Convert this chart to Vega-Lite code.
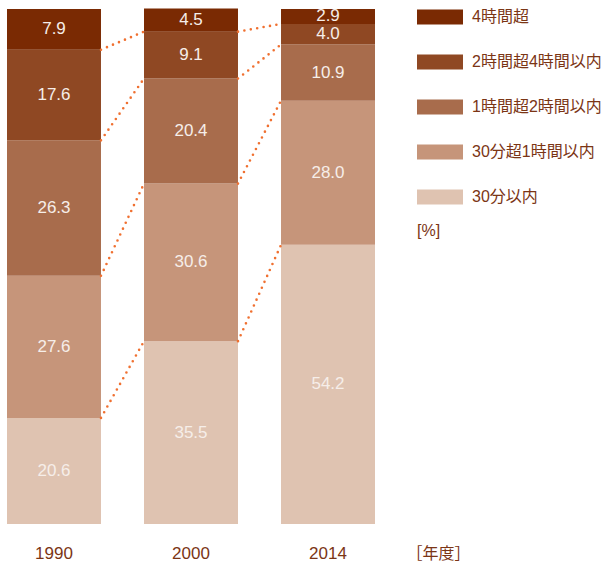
{
  "$schema": "https://vega.github.io/schema/vega-lite/v6.json",
  "width": 368,
  "height": 515,
  "autosize": {"type": "none"},
  "padding": {"left": 7, "top": 9, "right": 238, "bottom": 39},
  "background": "white",
  "config": {"view": {"stroke": null}, "font": "Liberation Sans, Noto Sans CJK JP"},
  "data": {"values": [
    {"year": "1990", "cat": "30分以内", "value": 20.6},
    {"year": "1990", "cat": "30分超1時間以内", "value": 27.6},
    {"year": "1990", "cat": "1時間超2時間以内", "value": 26.3},
    {"year": "1990", "cat": "2時間超4時間以内", "value": 17.6},
    {"year": "1990", "cat": "4時間超", "value": 7.9},
    {"year": "2000", "cat": "30分以内", "value": 35.5},
    {"year": "2000", "cat": "30分超1時間以内", "value": 30.6},
    {"year": "2000", "cat": "1時間超2時間以内", "value": 20.4},
    {"year": "2000", "cat": "2時間超4時間以内", "value": 9.1},
    {"year": "2000", "cat": "4時間超", "value": 4.5},
    {"year": "2014", "cat": "30分以内", "value": 54.2},
    {"year": "2014", "cat": "30分超1時間以内", "value": 28.0},
    {"year": "2014", "cat": "1時間超2時間以内", "value": 10.9},
    {"year": "2014", "cat": "2時間超4時間以内", "value": 4.0},
    {"year": "2014", "cat": "4時間超", "value": 2.9}
  ]},
  "transform": [
    {"calculate": "indexof(['30分以内','30分超1時間以内','1時間超2時間以内','2時間超4時間以内','4時間超'], datum.cat)", "as": "ord"},
    {"stack": "value", "groupby": ["year"], "sort": [{"field": "ord", "order": "ascending"}], "as": ["y0", "y1"]},
    {"calculate": "(datum.y0 + datum.y1) / 2", "as": "ymid"}
  ],
  "encoding": {
    "x": {"field": "year", "type": "nominal",
      "scale": {"paddingInner": 0.314, "paddingOuter": 0},
      "axis": {"title": "［年度］", "labelAngle": 0, "ticks": false, "domain": false,
        "labelFontSize": 17, "labelColor": "#7B3515", "labelPadding": 21,
        "titleFontSize": 16, "titleFontWeight": "normal", "titleColor": "#7B3515",
        "titleX": 431, "titleY": 29, "titleBaseline": "middle", "titleAnchor": "middle"}}
  },
  "layer": [
    {
      "mark": {"type": "bar"},
      "encoding": {
        "y": {"field": "y0", "type": "quantitative", "scale": {"domain": [0, 100], "nice": false}, "axis": null},
        "y2": {"field": "y1"},
        "color": {"field": "cat", "type": "nominal",
          "scale": {"domain": ["4時間超", "2時間超4時間以内", "1時間超2時間以内", "30分超1時間以内", "30分以内"],
                    "range": ["#7A2A03", "#8F4823", "#A86C4C", "#C6957A", "#DFC3B1"]},
          "legend": {"orient": "none", "legendX": 410, "legendY": -15, "title": "[%]", "titleOrient": "bottom",
            "titleAnchor": "start",
            "titleFontSize": 16, "titleFontWeight": "normal", "titleColor": "#7B3515", "titlePadding": 18,
            "symbolType": "M-1,-0.326H1V0.326H-1Z", "symbolSize": 2116, "symbolStrokeWidth": 0, "symbolOpacity": 1,
            "labelFontSize": 16, "labelColor": "#7B3515", "labelOffset": 9, "rowPadding": 14,
            "labelLimit": 300}}
      }
    },
    {
      "mark": {"type": "text", "fontSize": 17, "color": "#F6EEE9"},
      "encoding": {
        "y": {"field": "ymid", "type": "quantitative"},
        "text": {"field": "value", "type": "quantitative", "format": ".1f"}
      }
    },
    {
      "transform": [
        {"filter": "datum.cat !== '4時間超'"},
        {"window": [{"op": "lead", "field": "year", "as": "nyear"}, {"op": "lead", "field": "y1", "as": "ny1"}],
         "groupby": ["cat"], "sort": [{"field": "year", "order": "ascending"}]},
        {"filter": "datum.nyear != null"}
      ],
      "mark": {"type": "rule", "color": "#F07030", "strokeWidth": 2.6, "strokeDash": [0, 6.5], "strokeCap": "round"},
      "encoding": {
        "x": {"field": "year", "type": "nominal", "bandPosition": 1},
        "x2": {"field": "nyear", "bandPosition": 0},
        "y": {"field": "y1", "type": "quantitative"},
        "y2": {"field": "ny1"}
      }
    }
  ]
}
